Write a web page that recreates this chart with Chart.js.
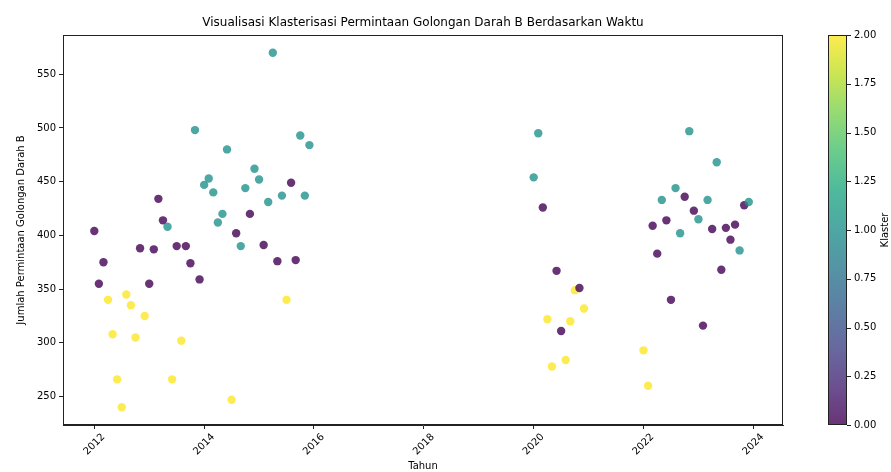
<!DOCTYPE html>
<html>
<head>
<meta charset="utf-8">
<script src="https://cdn.jsdelivr.net/npm/chart.js"></script>
<style>
  html, body { margin: 0; padding: 0; background: #fff; }
  #wrap { width: 891px; height: 472px; position: relative; }
</style>
</head>
<body>
<div id="wrap"><canvas id="myChart"></canvas></div>
<script>
// bulan (YYYY-MM), jumlah permintaan darah B, dan klaster hasil KMeans
const bulan = [
  '2012-01','2012-02','2012-03','2012-04','2012-05','2012-06','2012-07','2012-08','2012-09','2012-10','2012-11','2012-12',
  '2013-01','2013-02','2013-03','2013-04','2013-05','2013-06','2013-07','2013-08','2013-09','2013-10','2013-11','2013-12',
  '2014-01','2014-02','2014-03','2014-04','2014-05','2014-06','2014-07','2014-08','2014-09','2014-10','2014-11','2014-12',
  '2015-01','2015-02','2015-03','2015-04','2015-05','2015-06','2015-07','2015-08','2015-09','2015-10','2015-11','2015-12',
  '2020-01','2020-02','2020-03','2020-04','2020-05','2020-06','2020-07','2020-08','2020-09','2020-10','2020-11','2020-12',
  '2022-01','2022-02','2022-03','2022-04','2022-05','2022-06','2022-07','2022-08','2022-09','2022-10','2022-11','2022-12',
  '2023-01','2023-02','2023-03','2023-04','2023-05','2023-06','2023-07','2023-08','2023-09','2023-10','2023-11','2023-12'
];
const permintaan = [
  404, 355, 375, 340, 308, 266, 240, 345, 335, 305, 388, 325,
  355, 387, 434, 414, 408, 266, 390, 302, 390, 374, 498, 359,
  447, 453, 440, 412, 420, 480, 247, 402, 390, 444, 420, 462,
  452, 391, 431, 570, 376, 437, 340, 449, 377, 493, 437, 484,
  454, 495, 426, 322, 278, 367, 311, 284, 320, 349, 351, 332,
  293, 260, 409, 383, 433, 414, 340, 444, 402, 436, 497, 423,
  415, 316, 433, 406, 468, 368, 407, 396, 410, 386, 428, 431
];
const klaster = [
  0, 0, 0, 2, 2, 2, 2, 2, 2, 2, 0, 2,
  0, 0, 0, 0, 1, 2, 0, 2, 0, 0, 1, 0,
  1, 1, 1, 1, 1, 1, 2, 0, 1, 1, 0, 1,
  1, 0, 1, 1, 0, 1, 2, 0, 0, 1, 1, 1,
  1, 1, 0, 2, 2, 0, 0, 2, 2, 2, 0, 2,
  2, 2, 0, 0, 1, 0, 0, 1, 1, 0, 1, 0,
  1, 0, 1, 0, 1, 0, 0, 0, 0, 1, 0, 1
];
const xTicks = [2012, 2014, 2016, 2018, 2020, 2022, 2024];
const yTicks = [250, 300, 350, 400, 450, 500, 550];
const cbarTicks = [0, 0.25, 0.5, 0.75, 1.0, 1.25, 1.5, 1.75, 2.0];

const judul = 'Visualisasi Klasterisasi Permintaan Golongan Darah B Berdasarkan Waktu';
const labelX = 'Tahun';
const labelY = 'Jumlah Permintaan Golongan Darah B';
const labelCbar = 'Klaster';

const viridis = ['#440154','#482475','#414487','#355f8d','#2a788e','#21918c','#22a884','#44bf70','#7ad151','#bddf26','#fde725'];
const warnaKlaster = ['rgba(68,1,84,0.8)', 'rgba(33,145,140,0.8)', 'rgba(253,231,37,0.8)'];

const FONT = '"DejaVu Sans", sans-serif';

const points = bulan.map((b, i) => {
  const [th, bl] = b.split('-').map(Number);
  return { x: th + (bl - 1) / 12, y: permintaan[i] };
});

const canvas = document.getElementById('myChart');

const decor = {
  id: 'decor',
  beforeDraw(chart) {
    const ctx = chart.ctx;
    ctx.save();
    ctx.fillStyle = '#fff';
    ctx.fillRect(0, 0, chart.width, chart.height);
    ctx.restore();
  },
  afterDraw(chart) {
    const ctx = chart.ctx;
    const a = chart.chartArea;
    const xs = chart.scales.x;
    ctx.save();
    // frame
    ctx.strokeStyle = '#222';
    ctx.lineWidth = 1;
    ctx.strokeRect(a.left + 0.5, a.top + 0.5, a.right - a.left - 1, a.bottom - a.top - 1);

    // title
    ctx.fillStyle = '#000';
    ctx.font = '12px ' + FONT;
    ctx.textAlign = 'center';
    ctx.textBaseline = 'alphabetic';
    ctx.fillText(judul, (a.left + a.right) / 2, a.top - 9);

    // x tick labels, rotated 45 and centred on the tick
    ctx.font = '10px ' + FONT;
    ctx.textAlign = 'center';
    ctx.textBaseline = 'middle';
    xTicks.forEach(t => {
      const px = xs.getPixelForValue(t);
      const w = ctx.measureText(String(t)).width;
      const box = (w + 10) * Math.SQRT1_2;
      ctx.save();
      ctx.translate(px, a.bottom + 7 + box / 2);
      ctx.rotate(-Math.PI / 4);
      ctx.fillText(String(t), 0, 0);
      ctx.restore();
    });

    // axis titles
    ctx.textAlign = 'center';
    ctx.textBaseline = 'middle';
    ctx.fillText(labelX, (a.left + a.right) / 2, 466);
    ctx.save();
    ctx.translate(21, (a.top + a.bottom) / 2);
    ctx.rotate(-Math.PI / 2);
    ctx.fillText(labelY, 0, 0);
    ctx.restore();

    // colorbar
    const cbL = 828, cbR = 847, cbT = a.top, cbB = a.bottom;
    const g = ctx.createLinearGradient(0, cbB, 0, cbT);
    viridis.forEach((c, i) => g.addColorStop(i / (viridis.length - 1), c));
    ctx.globalAlpha = 0.8;
    ctx.fillStyle = g;
    ctx.fillRect(cbL, cbT, cbR - cbL, cbB - cbT);
    ctx.globalAlpha = 1;
    ctx.strokeStyle = '#222';
    ctx.strokeRect(cbL + 0.5, cbT + 0.5, cbR - cbL - 1, cbB - cbT - 1);
    ctx.fillStyle = '#000';
    ctx.textAlign = 'left';
    ctx.textBaseline = 'middle';
    cbarTicks.forEach(v => {
      const py = cbB - (v / 2) * (cbB - cbT);
      ctx.beginPath();
      ctx.moveTo(cbR, Math.round(py) + 0.5);
      ctx.lineTo(cbR + 4, Math.round(py) + 0.5);
      ctx.stroke();
      ctx.fillText(v.toFixed(2), cbR + 7, py);
    });
    ctx.save();
    ctx.translate(885, (cbT + cbB) / 2);
    ctx.rotate(-Math.PI / 2);
    ctx.textAlign = 'center';
    ctx.fillText(labelCbar, 0, 0);
    ctx.restore();
    ctx.restore();
  }
};

new Chart(canvas, {
  type: 'scatter',
  data: {
    datasets: [{
      data: points,
      backgroundColor: klaster.map(k => warnaKlaster[k]),
      borderWidth: 0,
      pointRadius: 4.2,
      pointHoverRadius: 4.2
    }]
  },
  options: {
    responsive: true,
    maintainAspectRatio: false,
    animation: false,
    layout: { padding: { top: 35, right: 108, left: 0, bottom: 0 } },
    plugins: { legend: { display: false }, tooltip: { enabled: false } },
    scales: {
      x: {
        type: 'linear',
        min: 2011.43,
        max: 2024.54,
        afterFit: s => { s.height = 47; },
        afterBuildTicks: s => { s.ticks = xTicks.map(v => ({ value: v })); },
        ticks: { display: false },
        grid: { drawOnChartArea: false, drawTicks: true, tickLength: 4, color: '#222' },
        border: { color: '#222' }
      },
      y: {
        min: 223.5,
        max: 586.5,
        afterFit: s => { s.width = 63; },
        afterBuildTicks: s => { s.ticks = yTicks.map(v => ({ value: v })); },
        ticks: { color: '#000', padding: 3, font: { family: FONT, size: 10 }, callback: v => String(v) },
        grid: { drawOnChartArea: false, drawTicks: true, tickLength: 4, color: '#222' },
        border: { color: '#222' }
      }
    }
  },
  plugins: [decor]
});
</script>
</body>
</html>
